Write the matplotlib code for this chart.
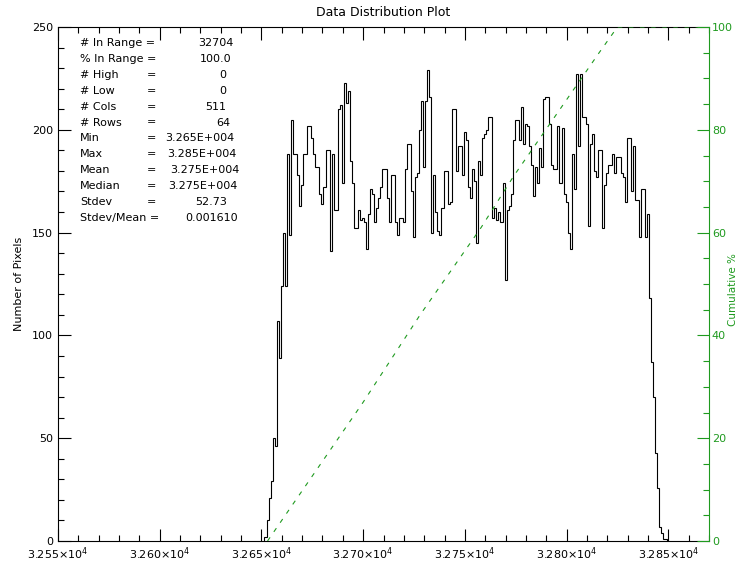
import numpy as np
import matplotlib.pyplot as plt
from matplotlib.ticker import MultipleLocator

plt.rcParams['font.family'] = 'DejaVu Sans'
plt.rcParams['mathtext.default'] = 'regular'

# histogram: one bin per integer value, first bin at 32652
first_value = 32652
counts = [
    2, 10, 21, 29, 50, 46, 107, 89, 124, 150, 124, 188, 149, 205,
    188, 188, 178, 163, 173, 188, 188, 202, 202, 196,
    188, 182, 182, 169, 164, 172, 190, 190, 141, 188, 161,
    161, 210, 212, 174, 223, 213, 219, 185, 174, 152,
    152, 161, 156, 157, 155, 142, 159, 171, 169, 155,
    162, 167, 172, 181, 181, 167, 155, 178, 178, 155, 149,
    157, 157, 155, 181, 193, 193, 170, 148, 177, 179, 200, 214,
    182, 214, 229, 216, 150, 178, 160, 151, 149, 162,
    180, 180, 164, 165, 210, 210, 180, 192, 192, 178, 199,
    195, 172, 167, 181, 175, 145, 185, 178, 196, 198,
    200, 206, 206, 157, 162, 156, 160, 155, 174,
    127, 161, 163, 169, 195, 205, 205, 195, 211, 193, 203,
    202, 192, 183, 168, 182, 174, 191, 182, 215, 216, 216,
    203, 183, 181, 181, 202, 174, 201, 169, 165, 150, 142,
    188, 171, 227, 192, 227, 206, 206, 203, 153, 193, 198,
    180, 177, 190, 190, 152, 173, 179, 183, 183, 188, 179, 187, 187,
    179, 177, 165, 196, 196, 170, 192, 166, 166, 148, 171, 171, 148,
    159,
    118, 87, 70, 43, 26, 7, 4, 1, 1,
]

# cumulative % curve as drawn (dashed green)
cum_x = [32653, 32700, 32728, 32758, 32774, 32816, 32825, 32870]
cum_pct = [0, 27, 44, 61, 71, 95, 100, 100]

x_ticks = [32550, 32600, 32650, 32700, 32750, 32800, 32850]
x_tick_labels = ['3.255×10$^{4}$', '3.260×10$^{4}$', '3.265×10$^{4}$',
                 '3.270×10$^{4}$', '3.275×10$^{4}$', '3.280×10$^{4}$',
                 '3.285×10$^{4}$']

stat_labels = ['# In Range =', '% In Range =', '# High', '# Low', '# Cols',
               '# Rows', 'Min', 'Max', 'Mean', 'Median', 'Stdev',
               'Stdev/Mean =']
stat_values = ['32704', '100.0', '0', '0', '511', '64', '3.265E+004',
               '3.285E+004', '3.275E+004', '3.275E+004', '52.73', '0.001610']
stat_has_eq = [False, False, True, True, True, True, True, True, True, True,
               True, False]
value_x = [216, 216, 223, 223, 216, 223, 200, 202, 205, 203, 211, 212]

green = '#1f9a1f'
W, H = 741, 567

fig = plt.figure(figsize=(W / 100, H / 100), dpi=100)
ax = fig.add_axes([58 / W, 26 / H, 651 / W, 514 / H])

edges = np.arange(len(counts) + 1) + first_value - 0.5
ax.stairs(counts, edges, color='black', lw=0.8)

ax.set_xlim(32550, 32870)
ax.set_ylim(0, 250)
ax.set_xticks(x_ticks, x_tick_labels)
ax.xaxis.set_minor_locator(MultipleLocator(10))
ax.set_yticks(range(0, 251, 50))
ax.yaxis.set_minor_locator(MultipleLocator(10))
ax.tick_params(which='both', direction='in', top=True, right=False,
               labelsize=8, width=0.8)
ax.tick_params(which='major', length=9)
ax.tick_params(which='minor', length=4)
ax.spines['right'].set_visible(False)
for s in ['left', 'bottom', 'top']:
    ax.spines[s].set_linewidth(0.8)
ax.set_ylabel('Number of Pixels', fontsize=8, labelpad=6)

ax2 = ax.twinx()
ax2.plot(cum_x, cum_pct, color=green, lw=0.8, ls=(0, (4, 6)))
ax2.set_ylim(0, 100)
ax2.set_yticks(range(0, 101, 20))
ax2.yaxis.set_minor_locator(MultipleLocator(5))
ax2.tick_params(which='both', direction='in', colors=green, labelsize=8,
                width=0.8, pad=2)
ax2.tick_params(which='major', length=9)
ax2.tick_params(which='minor', length=4)
for s in ['left', 'bottom', 'top']:
    ax2.spines[s].set_visible(False)
ax2.spines['right'].set_color(green)
ax2.spines['right'].set_linewidth(0.8)

# right axis title placed by hand so it stays inside the picture
fig.text(733 / W, 1 - 290 / H, 'Cumulative %', color=green, fontsize=7.5,
         rotation=90, ha='center', va='center')

fig.text(383.5 / W, 1 - 13 / H, 'Data Distribution Plot', ha='center',
         va='center', fontsize=9)

row_y = 43
for lab, val, eq, vx in zip(stat_labels, stat_values, stat_has_eq, value_x):
    fig.text(80 / W, 1 - row_y / H, lab, ha='left', va='center', fontsize=8)
    if eq:
        fig.text(151 / W, 1 - row_y / H, '=', ha='center', va='center',
                 fontsize=8)
    fig.text(vx / W, 1 - row_y / H, val, ha='center', va='center', fontsize=8)
    row_y += 15.9

fig.savefig('out.png', dpi=100, facecolor='white')
